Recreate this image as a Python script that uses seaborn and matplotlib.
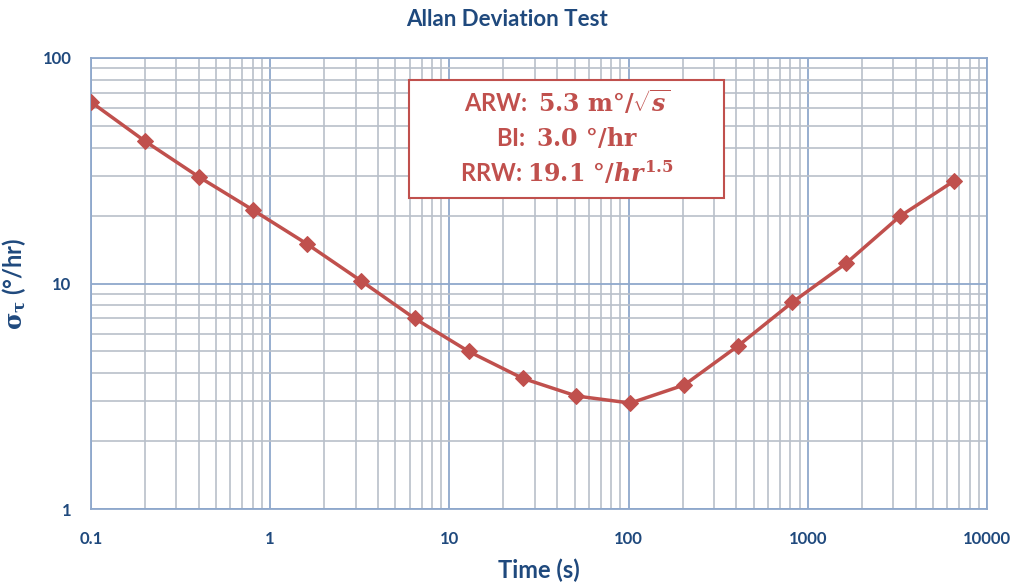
import numpy as np
import pandas as pd
import seaborn as sns
import matplotlib.pyplot as plt
from matplotlib.ticker import FixedLocator, FuncFormatter, NullFormatter
from matplotlib.patches import Rectangle

# averaging time (s) and Allan deviation (deg/hr)
tau = [0.1, 0.2, 0.4, 0.8, 1.6, 3.2, 6.4, 12.8, 25.6, 51.2, 102.4,
       204.8, 409.6, 819.2, 1638.4, 3276.8, 6553.6]
sigma = [63.8, 42.8, 29.7, 21.2, 15.0, 10.3, 7.0, 5.0, 3.8, 3.17, 2.95,
         3.55, 5.3, 8.25, 12.3, 19.9, 28.5]
x_ticks = [0.1, 1, 10, 100, 1000, 10000]
y_ticks = [1, 10, 100]

df = pd.DataFrame({'tau': tau, 'sigma': sigma})

sns.set_style('white')
plt.rcParams['font.family'] = ['Lato', 'DejaVu Sans']
plt.rcParams['mathtext.fontset'] = 'custom'
plt.rcParams['mathtext.rm'] = 'DejaVu Serif:bold'
plt.rcParams['mathtext.it'] = 'DejaVu Serif:bold:italic'
plt.rcParams['mathtext.bf'] = 'DejaVu Serif:bold'

navy = '#1F497D'
red = '#C0504D'
major_c = '#8FA8CC'
minor_c = '#B9C0CA'

fig = plt.figure(figsize=(10.13, 5.84), dpi=100)
ax = fig.add_axes([0.0898, 0.1284, 0.8845, 0.7723])

sns.lineplot(data=df, x='tau', y='sigma', ax=ax, color=red, lw=2.5,
             marker='D', markersize=8, markeredgecolor=red, zorder=5)

ax.set_xscale('log')
ax.set_yscale('log')
ax.set_xlim(0.1, 10000)
ax.set_ylim(1, 100)

ax.xaxis.set_major_locator(FixedLocator(x_ticks))
ax.yaxis.set_major_locator(FixedLocator(y_ticks))
ax.xaxis.set_minor_locator(FixedLocator([d * m for d in x_ticks[:-1] for m in range(2, 10)]))
ax.yaxis.set_minor_locator(FixedLocator([d * m for d in y_ticks[:-1] for m in range(2, 10)]))
ax.xaxis.set_major_formatter(FuncFormatter(lambda v, p: f'{v:g}'))
ax.yaxis.set_major_formatter(FuncFormatter(lambda v, p: f'{v:g}'))
ax.xaxis.set_minor_formatter(NullFormatter())
ax.yaxis.set_minor_formatter(NullFormatter())

ax.grid(which='minor', color=minor_c, lw=1.2)
ax.grid(which='major', color=major_c, lw=1.3)
ax.tick_params(which='both', length=0)
ax.tick_params(axis='x', pad=16)
ax.tick_params(axis='y', pad=14)
for lab in ax.get_xticklabels() + ax.get_yticklabels():
    lab.set_fontsize(12)
    lab.set_fontweight('bold')
    lab.set_color(navy)
for s in ax.spines.values():
    s.set_color(major_c)
    s.set_linewidth(1.3)

ax.set_xlabel('Time (s)', fontsize=17, fontweight='bold', color=navy, labelpad=8)
ax.set_ylabel(r'$\mathbf{\sigma_\tau}$ (°/hr)', fontsize=17, fontweight='bold', color=navy, labelpad=10)
fig.suptitle('Allan Deviation Test', fontsize=16, fontweight='bold', color=navy, y=0.985)

# parameter box
box = Rectangle((0.355, 0.690), 0.352, 0.262, transform=ax.transAxes,
                facecolor='white', edgecolor=red, lw=1.5, zorder=6)
ax.add_patch(box)
lines = [r'ARW:  $\mathrm{5.3\ m°/}\sqrt{s}$',
         r'BI:  $\mathrm{3.0\ °/hr}$',
         r'RRW: $\mathrm{19.1\ °/}hr^{\mathrm{1.5}}$']
for i, t in enumerate(lines):
    ax.text(0.531, 0.902 - i * 0.078, t, transform=ax.transAxes, ha='center', va='center',
            fontsize=17, fontweight='bold', color=red, zorder=7)

fig.savefig('out.png', dpi=100)
